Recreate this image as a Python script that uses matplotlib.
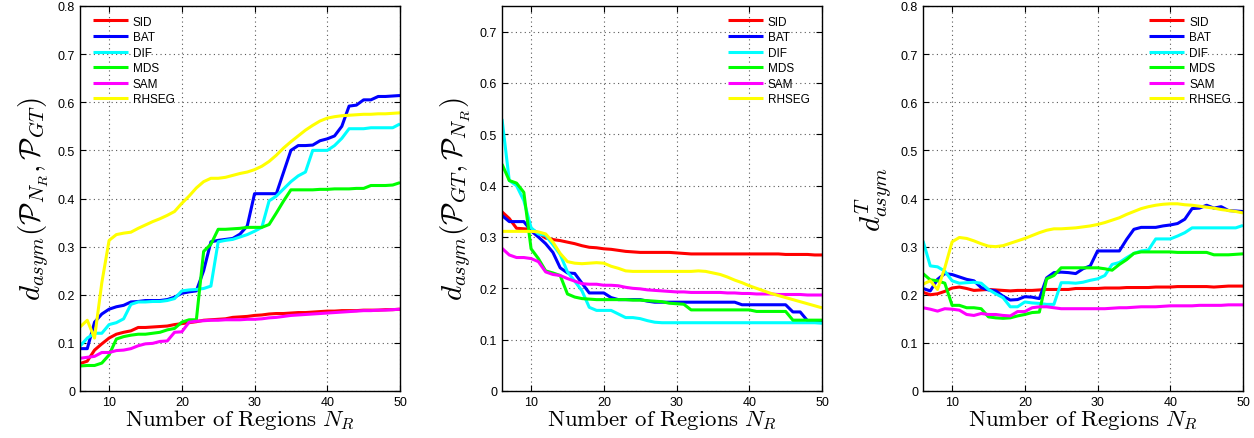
import matplotlib
matplotlib.use("Agg")
import matplotlib.pyplot as plt

plt.rcParams['mathtext.fontset'] = 'cm'
plt.rcParams['font.family'] = ['Liberation Sans', 'DejaVu Sans']

n_regions = list(range(6, 51))
methods = ["SID", "BAT", "DIF", "MDS", "SAM", "RHSEG"]
colors = ["#ff0000", "#0000ff", "#00ffff", "#00ff00", "#ff00ff", "#ffff00"]

# Panel 1: d_asym(P_NR, P_GT)
p1_sid = [.057, .062, .085, .098, .110, .118, .122, .125, .132, .132,
          .133, .134, .135, .138, .140, .142, .144, .147, .148, .149,
          .150, .153, .154, .155, .157, .158, .160, .161, .161, .162,
          .163, .163, .164, .165, .166, .166, .167, .167, .167, .168,
          .168, .168, .169, .169, .170]
p1_bat = [.088, .088, .143, .160, .170, .175, .178, .185, .186, .188,
          .188, .188, .190, .195, .203, .206, .208, .250, .310, .313,
          .315, .317, .326, .343, .410, .410, .410, .410, .455, .500,
          .510, .510, .511, .520, .524, .530, .550, .592, .594, .605,
          .605, .612, .612, .613, .614]
p1_dif = [.093, .110, .120, .120, .138, .142, .150, .180, .185, .185,
          .186, .186, .188, .192, .208, .210, .211, .213, .218, .310,
          .313, .315, .320, .325, .332, .340, .395, .405, .420, .435,
          .447, .455, .500, .500, .500, .510, .525, .545, .545, .545,
          .547, .547, .547, .547, .555]
p1_mds = [.052, .053, .053, .058, .075, .108, .113, .116, .118, .118,
          .120, .122, .127, .130, .143, .148, .148, .290, .305, .336,
          .336, .337, .338, .340, .340, .340, .346, .370, .395, .418,
          .418, .418, .418, .419, .419, .420, .420, .420, .421, .421,
          .427, .427, .427, .428, .433]
p1_sam = [.068, .070, .072, .080, .080, .084, .085, .088, .094, .098,
          .099, .103, .104, .122, .123, .143, .145, .146, .147, .147,
          .148, .148, .148, .149, .149, .150, .152, .153, .155, .157,
          .158, .159, .160, .161, .162, .163, .164, .165, .166, .167,
          .167, .168, .168, .169, .170]
p1_rhseg = [.133, .147, .110, .225, .313, .325, .328, .330, .338, .345,
            .352, .358, .365, .373, .390, .405, .422, .435, .442, .442,
            .444, .448, .452, .455, .460, .467, .477, .490, .505, .518,
            .530, .542, .552, .561, .567, .570, .572, .573, .574, .575,
            .575, .576, .576, .577, .578]

# Panel 2: d_asym(P_GT, P_NR)
p2_sid = [.349, .336, .317, .316, .315, .308, .298, .295, .293, .290,
          .287, .283, .280, .279, .277, .276, .274, .272, .271, .270,
          .270, .270, .270, .270, .269, .268, .267, .267, .267, .267,
          .267, .267, .267, .267, .267, .267, .267, .267, .267, .266,
          .266, .266, .266, .265, .265]
p2_bat = [.342, .330, .330, .330, .312, .300, .287, .270, .240, .230,
          .229, .210, .191, .191, .191, .182, .178, .178, .178, .178,
          .175, .173, .173, .173, .173, .173, .173, .173, .173, .173,
          .173, .173, .173, .168, .168, .168, .168, .168, .168, .168,
          .154, .154, .137, .137, .137]
p2_dif = [.530, .410, .400, .371, .318, .306, .303, .285, .266, .232,
          .214, .195, .163, .157, .157, .157, .150, .143, .143, .141,
          .137, .134, .133, .133, .133, .133, .133, .133, .133, .133,
          .133, .133, .133, .133, .133, .133, .133, .133, .133, .133,
          .133, .133, .133, .133, .132]
p2_mds = [.442, .410, .405, .387, .277, .258, .234, .230, .225, .189,
          .183, .180, .179, .178, .178, .178, .178, .178, .177, .177,
          .176, .175, .174, .171, .170, .169, .158, .158, .158, .158,
          .158, .158, .158, .158, .158, .155, .155, .155, .155, .155,
          .138, .138, .138, .138, .138]
p2_sam = [.278, .265, .260, .260, .258, .252, .232, .227, .225, .219,
          .214, .209, .208, .208, .206, .206, .205, .202, .200, .199,
          .197, .196, .195, .194, .193, .193, .192, .192, .192, .192,
          .192, .191, .191, .190, .190, .189, .189, .189, .188, .188,
          .188, .188, .187, .187, .187]
p2_rhseg = [.311, .311, .311, .311, .311, .310, .306, .290, .268, .252,
            .249, .248, .249, .250, .249, .243, .239, .234, .233, .233,
            .233, .233, .233, .233, .233, .233, .233, .234, .233, .230,
            .227, .222, .216, .211, .205, .200, .195, .190, .186, .182,
            .178, .174, .170, .166, .162]

# Panel 3: d^T_asym
p3_sid = [.205, .200, .202, .207, .214, .216, .213, .209, .210, .211,
          .210, .209, .208, .209, .209, .209, .210, .211, .211, .211,
          .211, .213, .213, .213, .213, .214, .214, .214, .215, .215,
          .215, .215, .216, .216, .216, .217, .217, .217, .217, .217,
          .216, .217, .218, .218, .218]
p3_bat = [.213, .208, .232, .244, .242, .237, .232, .229, .215, .210,
          .208, .197, .189, .190, .196, .195, .192, .235, .246, .247,
          .246, .244, .254, .260, .291, .291, .291, .291, .315, .336,
          .340, .340, .340, .343, .345, .348, .357, .379, .380, .386,
          .380, .383, .375, .374, .373]
p3_dif = [.312, .260, .258, .249, .229, .224, .225, .226, .224, .211,
          .202, .194, .175, .175, .185, .183, .182, .180, .180, .225,
          .225, .224, .226, .230, .233, .240, .263, .267, .277, .286,
          .291, .293, .316, .316, .316, .322, .329, .339, .339, .339,
          .339, .339, .339, .339, .344]
p3_mds = [.244, .231, .229, .224, .178, .178, .173, .173, .171, .154,
          .152, .151, .152, .156, .159, .163, .164, .233, .240, .256,
          .256, .256, .256, .256, .256, .254, .251, .263, .273, .286,
          .289, .289, .289, .289, .289, .288, .288, .288, .288, .288,
          .283, .283, .283, .284, .285]
p3_sam = [.173, .170, .166, .171, .170, .168, .159, .157, .161, .159,
          .159, .157, .156, .165, .165, .173, .175, .175, .173, .171,
          .171, .171, .171, .171, .171, .171, .172, .173, .173, .174,
          .175, .175, .175, .176, .177, .177, .177, .177, .178, .178,
          .178, .178, .179, .179, .179]
p3_rhseg = [.222, .229, .211, .256, .310, .319, .317, .312, .306, .301,
            .300, .302, .307, .312, .317, .323, .329, .334, .337, .337,
            .338, .339, .341, .343, .346, .350, .355, .360, .367, .373,
            .379, .383, .386, .388, .389, .389, .387, .386, .384, .382,
            .380, .377, .375, .373, .370]

panels = [
    dict(series=[p1_sid, p1_bat, p1_dif, p1_mds, p1_sam, p1_rhseg],
         ylim=0.8, yticks=[0, .1, .2, .3, .4, .5, .6, .7, .8],
         ylabel=r'$d_{asym}(\mathcal{P}_{N_R},\mathcal{P}_{GT})$',
         legend_x=0.04, left=80),
    dict(series=[p2_sid, p2_bat, p2_dif, p2_mds, p2_sam, p2_rhseg],
         ylim=0.75, yticks=[0, .1, .2, .3, .4, .5, .6, .7],
         ylabel=r'$d_{asym}(\mathcal{P}_{GT},\mathcal{P}_{N_R})$',
         legend_x=0.705, left=502),
    dict(series=[p3_sid, p3_bat, p3_dif, p3_mds, p3_sam, p3_rhseg],
         ylim=0.8, yticks=[0, .1, .2, .3, .4, .5, .6, .7, .8],
         ylabel=r'$d_{asym}^{T}$',
         legend_x=0.706, left=923),
]

W, H = 1254, 439
fig = plt.figure(figsize=(W / 100, H / 100), dpi=100)

for p in panels:
    ax = fig.add_axes([p['left'] / W, (H - 392) / H, 320 / W, 385 / H])
    for ys, name, c in zip(p['series'], methods, colors):
        ax.plot(n_regions, ys, color=c, lw=2.2, label=name, solid_capstyle='butt')
    ax.set_xlim(6, 50)
    ax.set_ylim(0, p['ylim'])
    ax.set_xticks([10, 20, 30, 40, 50])
    ax.set_yticks(p['yticks'])
    ax.set_yticklabels(['0' if t == 0 else f'{t:g}' for t in p['yticks']])
    ax.tick_params(direction='in', top=True, right=True, labelsize=9,
                   length=4, width=0.8, pad=3.5)
    ax.grid(True, linestyle=(0, (1, 3)), color='0.35', linewidth=0.8)
    for s in ax.spines.values():
        s.set_linewidth(1.0)
    ax.set_xlabel(r'$\mathrm{Number\ of\ Regions}\ N_R$', fontsize=16.5, labelpad=0)
    ax.set_ylabel(p['ylabel'], fontsize=21, labelpad=5)
    ax.legend(loc='upper left', bbox_to_anchor=(p['legend_x'], 0.975),
              frameon=False, fontsize=8.5, handlelength=3.0, handletextpad=0.4,
              labelspacing=0.3, borderpad=0, borderaxespad=0)

fig.savefig('out.png', dpi=100)
